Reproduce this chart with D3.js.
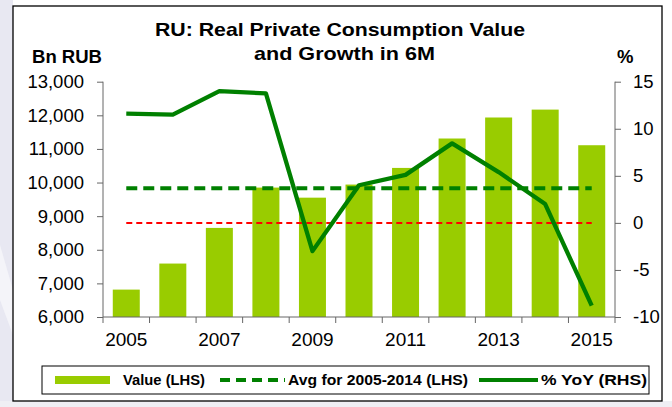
<!DOCTYPE html>
<html><head><meta charset="utf-8">
<script src="https://cdn.jsdelivr.net/npm/d3@7"></script>
<style>body{margin:0;background:#fff}svg{display:block;font-family:"Liberation Sans",Arial,sans-serif}</style>
</head><body><svg id="c" width="672" height="407"></svg>
<script>
const years = [2005,2006,2007,2008,2009,2010,2011,2012,2013,2014,2015];
const values = [6815,7590,8650,9850,9550,9940,10435,11310,11935,12170,11110];
const yoy = [11.6,11.5,14.0,13.75,-3.0,4.0,5.1,8.45,5.4,2.0,-8.8];
const avgValue = 9830;
const zeroRef = 0;
const leftTicks = [6000,7000,8000,9000,10000,11000,12000,13000];
const rightTicks = [-10,-5,0,5,10,15];
const yearLabels = [2005,2007,2009,2011,2013,2015];
const legendLabels = ["Value (LHS)","Avg for 2005-2014 (LHS)","% YoY (RHS)"];

const svg = d3.select("#c");
// background
svg.append("rect").attr("x",0).attr("y",0).attr("width",13).attr("height",407).attr("fill","#e8e8f2");
svg.append("polygon").attr("points","0,245 13,290 13,335 0,300").attr("fill","#f4f4f9");
svg.append("rect").attr("x",0).attr("y",401).attr("width",672).attr("height",6).attr("fill","#efeff4");
svg.append("rect").attr("x",13).attr("y",6).attr("width",649).attr("height",395)
  .attr("fill","#fff").attr("stroke","#000").attr("stroke-width",1.3);

const L=103,R=615,T=81.7,B=317;
const x = d3.scaleBand().domain(years).range([L,R]).paddingInner(0.42).paddingOuter(0.21);
const yL = d3.scaleLinear().domain([6000,13000]).range([B,T]);
const yR = d3.scaleLinear().domain([-10,15]).range([B,T]);
const cx = d => x(d)+x.bandwidth()/2;

// bars
svg.append("g").selectAll("rect").data(years).join("rect")
  .attr("x",d=>x(d)).attr("width",x.bandwidth())
  .attr("y",(d,i)=>yL(values[i])).attr("height",(d,i)=>B-yL(values[i]))
  .attr("fill","#99cc00");

// reference lines
svg.append("line").attr("x1",cx(years[0])).attr("x2",cx(years[years.length-1]))
  .attr("y1",yR(zeroRef)).attr("y2",yR(zeroRef))
  .attr("stroke","#ff0000").attr("stroke-width",2).attr("stroke-dasharray","6,4");
svg.append("line").attr("x1",cx(years[0])).attr("x2",cx(years[years.length-1]))
  .attr("y1",yL(avgValue)).attr("y2",yL(avgValue))
  .attr("stroke","#008000").attr("stroke-width",4).attr("stroke-dasharray","11,6");

// yoy line
svg.append("path").datum(years)
  .attr("d",d3.line().x(d=>cx(d)).y((d,i)=>yR(yoy[i])))
  .attr("fill","none").attr("stroke","#008000").attr("stroke-width",4.3).attr("stroke-linejoin","round");

// axes
const axisColor="#666";
const gl = svg.append("g").attr("transform",`translate(${L},0)`)
  .call(d3.axisLeft(yL).tickValues(leftTicks).tickSize(6).tickPadding(13).tickFormat(d3.format(",")));
const gr = svg.append("g").attr("transform",`translate(${R},0)`)
  .call(d3.axisRight(yR).tickValues(rightTicks).tickSize(6).tickPadding(12).tickFormat(d=>String(d)));
[gl,gr].forEach(g=>{
  g.select(".domain").attr("stroke",axisColor).attr("d",`M0,${B}V${T}`);
  g.selectAll(".tick line").attr("stroke",axisColor);
  g.selectAll(".tick text").attr("font-size",18.5).attr("fill","#000").attr("font-family","Liberation Sans, Arial, sans-serif");
});
// x axis
svg.append("line").attr("x1",L).attr("x2",R).attr("y1",B).attr("y2",B).attr("stroke",axisColor);
const bounds = years.map(d=>x(d)-(x.step()-x.bandwidth())/2).concat([R]);
svg.append("g").selectAll("line").data(bounds).join("line")
  .attr("x1",d=>d).attr("x2",d=>d).attr("y1",B).attr("y2",B+6).attr("stroke",axisColor);
svg.append("g").selectAll("text").data(yearLabels).join("text")
  .attr("x",d=>cx(d)).attr("y",346).attr("text-anchor","middle").attr("font-size",19).text(d=>d);

// titles
const t1 = svg.append("text").attr("x",155).attr("y",36).attr("font-weight","bold").attr("font-size",18.5)
  .attr("textLength",370).attr("lengthAdjust","spacingAndGlyphs").text("RU: Real Private Consumption Value");
const t2 = svg.append("text").attr("x",254).attr("y",60).attr("font-weight","bold").attr("font-size",18.5)
  .attr("textLength",181).attr("lengthAdjust","spacingAndGlyphs").text("and Growth in 6M");
svg.append("text").attr("x",32).attr("y",63).attr("font-weight","bold").attr("font-size",18.5)
  .attr("textLength",70).attr("lengthAdjust","spacingAndGlyphs").text("Bn RUB");
svg.append("text").attr("x",617).attr("y",63).attr("font-weight","bold").attr("font-size",18.5).text("%");

// legend
const ly=380;
svg.append("rect").attr("x",42).attr("y",366).attr("width",607).attr("height",28)
  .attr("fill","#fff").attr("stroke","#000").attr("stroke-width",1);
svg.append("rect").attr("x",55).attr("y",ly-4).attr("width",55).attr("height",8).attr("fill","#99cc00");
svg.append("line").attr("x1",220).attr("x2",285).attr("y1",ly).attr("y2",ly)
  .attr("stroke","#008000").attr("stroke-width",4).attr("stroke-dasharray","10,6");
svg.append("line").attr("x1",479).attr("x2",538).attr("y1",ly).attr("y2",ly)
  .attr("stroke","#008000").attr("stroke-width",4);
const lx=[123,288,541], lw=[82,180,106];
svg.append("g").selectAll("text").data(legendLabels).join("text")
  .attr("x",(d,i)=>lx[i]).attr("y",ly+5).attr("font-size",14.5).attr("font-weight","bold")
  .attr("textLength",(d,i)=>lw[i]).attr("lengthAdjust","spacingAndGlyphs").text(d=>d);
</script></body></html>
